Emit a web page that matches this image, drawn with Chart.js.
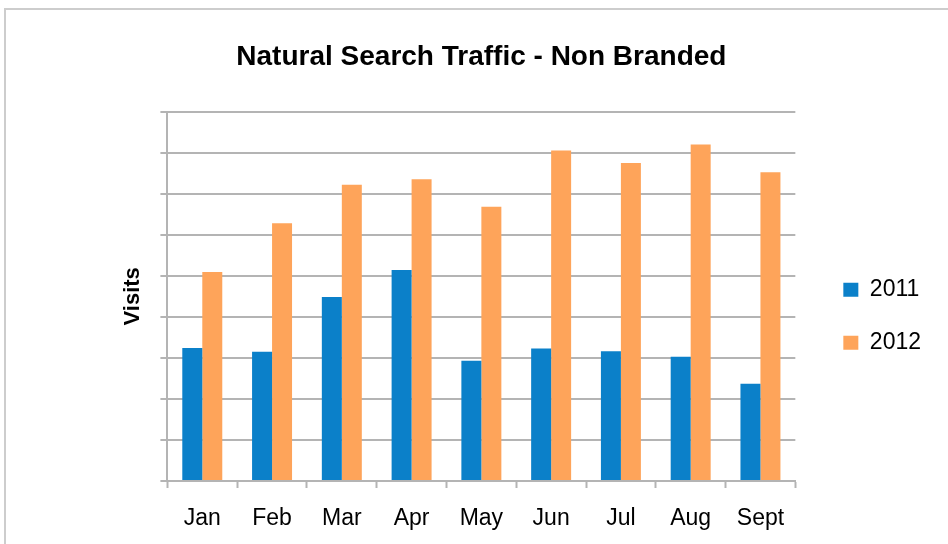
<!DOCTYPE html>
<html>
<head>
<meta charset="utf-8">
<title>Natural Search Traffic - Non Branded</title>
<script src="https://cdn.jsdelivr.net/npm/chart.js@4"></script>
<style>
    body { margin: 0; background: #fff; }
    #wrap { position: relative; width: 948px; height: 544px; overflow: hidden; }
    /* light frame of the original spreadsheet chart, only top and left edges visible */
    #frame { position: absolute; left: 4px; top: 8px; right: -10px; bottom: -10px;
             border-top: 2px solid #cdcdcd; border-left: 2px solid #cdcdcd; }
    #trafficChart { position: absolute; left: 0; top: 0; }
</style>
</head>
<body>
<div id="wrap">
    <div id="frame"></div>
    <canvas id="trafficChart" width="948" height="544"></canvas>
</div>
<script>
// Data (y axis has no labels, one gridline = 100 visits)
const months = ['Jan', 'Feb', 'Mar', 'Apr', 'May', 'Jun', 'Jul', 'Aug', 'Sept'];
const visits2011 = [324, 315, 448, 514, 293, 323, 316, 303, 237];
const visits2012 = [509, 628, 722, 735, 668, 805, 775, 820, 752];

const blue = '#0b80c9';
const orange = '#fea45a';
const gridGray = '#b4b4b4';

Chart.defaults.font.family = '"Liberation Sans", Arial, sans-serif';
Chart.defaults.color = '#000';

// Nudge the legend away from the plot, the way Excel places it
const legendOffset = {
    id: 'legendOffset',
    afterLayout(chart) {
        const lg = chart.legend;
        if (!lg) return;
        lg.left += 18;
        lg.right += 18;
        lg.top += 20;
        lg.bottom += 20;
    }
};

const ctx = document.getElementById('trafficChart').getContext('2d');
const chart = new Chart(ctx, {
    type: 'bar',
    data: {
        labels: months,
        datasets: [{
            label: '2011',
            data: visits2011,
            backgroundColor: blue,
            borderColor: blue,
            borderWidth: 0,
            categoryPercentage: 0.573,
            barPercentage: 1.0
        }, {
            label: '2012',
            data: visits2012,
            backgroundColor: orange,
            borderColor: orange,
            borderWidth: 0,
            categoryPercentage: 0.573,
            barPercentage: 1.0
        }]
    },
    options: {
        responsive: false,
        animation: false,
        layout: {
            padding: { left: 116, right: 35, top: 0, bottom: 0 }
        },
        plugins: {
            title: {
                display: true,
                fullSize: false,   // centre the title over the plot area
                text: 'Natural Search Traffic - Non Branded',
                font: { size: 28, weight: 'bold' },
                padding: { top: 40, bottom: 38 }
            },
            legend: {
                position: 'right',
                fullSize: false,
                labels: {
                    boxWidth: 15,
                    boxHeight: 14,
                    padding: 30,
                    font: { size: 23 }
                },
                onClick: () => {}
            },
            tooltip: { enabled: false }
        },
        scales: {
            x: {
                grid: {
                    drawOnChartArea: false,
                    drawTicks: true,
                    tickLength: 7,
                    tickColor: gridGray,
                    tickWidth: 2
                },
                border: { color: gridGray, width: 2 },
                ticks: {
                    font: { size: 23 },
                    padding: 17
                },
                afterFit(scale) {
                    scale.height = 63;  // keep the baseline where Excel had it
                }
            },
            y: {
                min: 0,
                max: 900,
                ticks: {
                    display: false,
                    stepSize: 100
                },
                grid: {
                    color: gridGray,
                    lineWidth: 2,
                    drawTicks: true,
                    tickLength: 7,
                    tickColor: gridGray
                },
                border: { color: gridGray, width: 2 },
                title: {
                    display: true,
                    text: 'Visits',
                    font: { size: 22, weight: 'bold' },
                    padding: { top: 4, bottom: 14 }
                }
            }
        }
    },
    plugins: [legendOffset]
});
</script>
</body>
</html>
